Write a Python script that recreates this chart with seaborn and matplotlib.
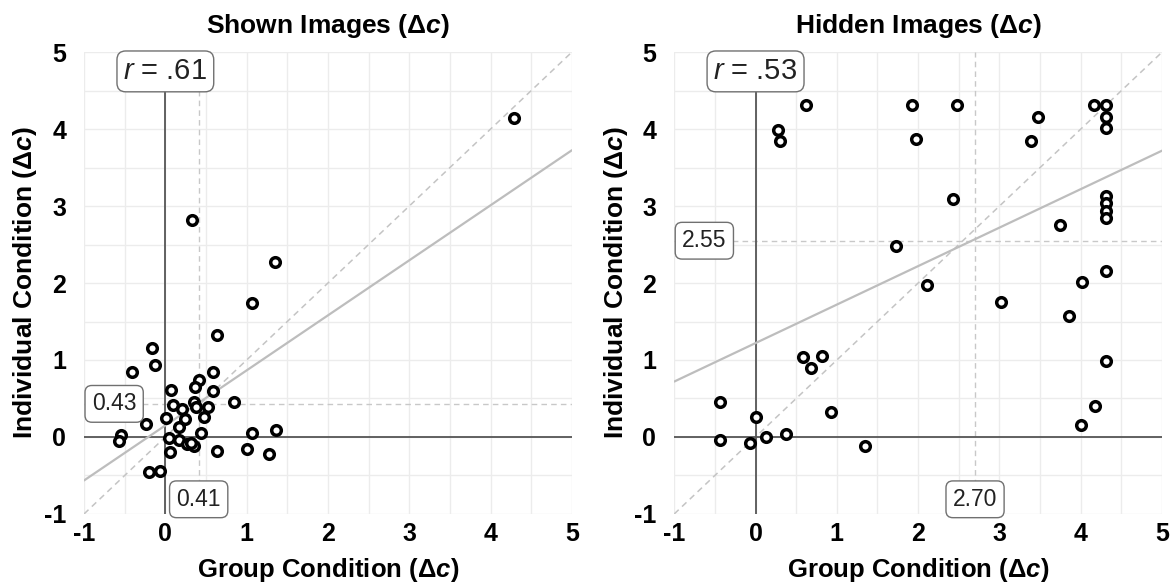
import numpy as np
import pandas as pd
import matplotlib
matplotlib.use("Agg")
import matplotlib.pyplot as plt
import seaborn as sns

# ---------------- data ----------------
shown_group = [0.63, -0.16, -0.13, -0.41, 0.58, 0.42, 0.37, 0.59, 0.07, 0.84,
               0.35, 0.09, 0.21, 0.38, 0.53, 0.48, 0.24, 0.01, -0.24, 0.17,
               0.44, -0.54, -0.57, 0.05, 0.17, 0.27, 0.35, 0.31, 0.06, 0.63,
               1.07, 1.36, 1.00, 1.27, -0.20, -0.06, 0.63, 0.33, 1.06, 1.35,
               4.29]
shown_indiv = [1.32, 1.15, 0.93, 0.84, 0.85, 0.74, 0.65, 0.60, 0.61, 0.46,
               0.46, 0.42, 0.36, 0.39, 0.39, 0.26, 0.23, 0.24, 0.17, 0.13,
               0.05, 0.03, -0.05, -0.02, -0.04, -0.09, -0.12, -0.08, -0.19, -0.18,
               0.05, 0.09, -0.15, -0.22, -0.46, -0.44, -0.70, 2.82, 1.74, 2.27,
               4.15]

hidden_group = [0.62, 0.28, 0.30, 1.93, 1.97, 1.73, 2.48, 3.48, 3.39, 4.16,
                4.31, 4.31, 4.31, 2.43, 4.31, 4.31, 4.31, 4.31, 3.75, 4.31,
                4.02, 2.11, 3.02, 3.86, 4.31, 4.17, 4.00, 0.58, 0.82, 0.68,
                -0.44, 0.01, 0.93, -0.44, -0.07, 0.13, 0.37, 1.35]
hidden_indiv = [4.31, 3.99, 3.84, 4.31, 3.87, 2.48, 4.31, 4.16, 3.85, 4.31,
                4.31, 4.16, 4.01, 3.09, 3.13, 3.04, 2.93, 2.84, 2.75, 2.16,
                2.01, 1.97, 1.76, 1.57, 0.99, 0.40, 0.16, 1.04, 1.05, 0.90,
                0.45, 0.26, 0.32, -0.04, -0.08, 0.00, 0.04, -0.12]

titles = ["Shown Images (\u0394$\\mathbfit{c}$)", "Hidden Images (\u0394$\\mathbfit{c}$)"]
r_labels = [".61", ".53"]
mean_group = [0.41, 2.70]
mean_indiv = [0.43, 2.55]
fit_slope = [0.715, 0.50]       # regression lines
fit_intercept = [0.15, 1.22]
ticks = [-1, 0, 1, 2, 3, 4, 5]

# ---------------- style ----------------
sns.set_theme(style="white")
plt.rcParams["font.family"] = ["Liberation Sans", "DejaVu Sans"]
plt.rcParams["mathtext.fontset"] = "custom"
plt.rcParams["mathtext.it"] = "Liberation Sans:italic"
plt.rcParams["mathtext.bfit"] = "Liberation Sans:bold:italic"
plt.rcParams["mathtext.bf"] = "Liberation Sans:bold"
plt.rcParams["mathtext.rm"] = "Liberation Sans"
plt.rcParams["text.color"] = "black"
plt.rcParams["axes.labelcolor"] = "black"
plt.rcParams["axes.titlecolor"] = "black"

fig, axes = plt.subplots(1, 2, figsize=(11.74, 5.86), dpi=100)
fig.subplots_adjust(left=0.0716, right=0.9898, top=0.911, bottom=0.123, wspace=0.21)

datasets = [(shown_group, shown_indiv), (hidden_group, hidden_indiv)]

def box(pad):
    return dict(boxstyle=f"round,pad={pad},rounding_size=0.3", facecolor="white",
                edgecolor="#707070", linewidth=1.0)

dash = (0, (4, 3))
for i, ax in enumerate(axes):
    gx, iy = datasets[i]
    df = pd.DataFrame({"group": gx, "indiv": iy})
    # grid every 0.5
    ax.set_xticks(np.arange(-1, 5.01, 0.5), minor=True)
    ax.set_yticks(np.arange(-1, 5.01, 0.5), minor=True)
    ax.grid(which="both", color="#ececec", linewidth=1.0)
    ax.set_axisbelow(True)
    for s in ax.spines.values():
        s.set_visible(False)
    # identity line
    ax.axline((0, 0), slope=1, color="#c4c4c4", linestyle=dash, linewidth=1.1, zorder=1)
    # mean lines
    ax.axvline(mean_group[i], color="#c8c8c8", linestyle=dash, linewidth=1.0, zorder=1)
    ax.axhline(mean_indiv[i], color="#c8c8c8", linestyle=dash, linewidth=1.0, zorder=1)
    # zero axes
    ax.axhline(0, color="#555555", linewidth=1.3, zorder=1.5)
    ax.axvline(0, color="#555555", linewidth=1.3, zorder=1.5)
    # regression line
    ax.axline((0, fit_intercept[i]), slope=fit_slope[i], color="#bdbdbd",
              linewidth=1.6, zorder=2)
    # points
    sns.scatterplot(data=df, x="group", y="indiv", ax=ax, s=48, facecolor="white",
                    edgecolor="black", linewidth=2.5, zorder=3)
    ax.set_xlim(-1, 5)
    ax.set_ylim(-1, 5)
    ax.set_xticks(ticks)
    ax.set_yticks(ticks)
    ax.set_xticklabels([str(t) for t in ticks])
    ax.set_yticklabels([str(t) for t in ticks])
    ax.tick_params(axis="both", which="both", length=0, labelsize=18, labelcolor="black")
    ax.tick_params(axis="x", pad=6)
    ax.tick_params(axis="y", pad=13)
    for lab in ax.get_xticklabels() + ax.get_yticklabels():
        lab.set_fontweight("bold")
    ax.set_xlabel("Group Condition (\u0394$\\mathbfit{c}$)", fontsize=18.5, fontweight="bold", labelpad=7)
    ax.set_ylabel("Individual Condition (\u0394$\\mathbfit{c}$)", fontsize=19, fontweight="bold", labelpad=3)
    ax.set_title(titles[i], fontsize=19, fontweight="bold", pad=14)
    # annotations
    ax.text(0, 4.75, "$r$ = " + r_labels[i], ha="center", va="center", fontsize=21,
            color="#222222", bbox=box(0.22), zorder=5)
    ax.text(-0.63, mean_indiv[i], f"{mean_indiv[i]:.2f}", ha="center", va="center",
            fontsize=16.5, color="#222222", bbox=box(0.3), zorder=5)
    ax.text(mean_group[i], -0.81, f"{mean_group[i]:.2f}", ha="center", va="center",
            fontsize=16.5, color="#222222", bbox=box(0.3), zorder=5)

fig.savefig("out.png", dpi=100)
